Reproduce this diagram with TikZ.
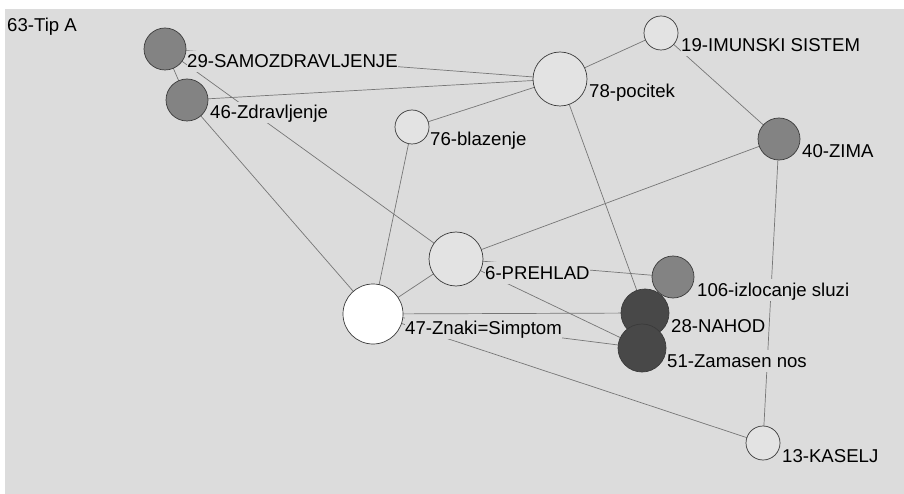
\documentclass[tikz,border=0pt]{standalone}
\usepackage{fontspec}
\setmainfont{Liberation Sans}
\definecolor{bgc}{HTML}{DCDCDC}
\definecolor{lightc}{HTML}{E3E3E3}
\definecolor{midc}{HTML}{838383}
\definecolor{darkc}{HTML}{484848}
\definecolor{bordc}{HTML}{3A3A3A}
\definecolor{edgec}{HTML}{767676}
\pgfdeclarelayer{bglayer}
\pgfdeclarelayer{edgelayer}
\pgfsetlayers{bglayer,edgelayer,main}
\begin{document}
\begin{tikzpicture}[x=1pt,y=-1pt,
  vtx/.style={circle, draw=bordc, line width=0.7pt, inner sep=0pt, minimum size=#1},
  lab/.style={anchor=base west, fill=bgc, inner xsep=0.5pt, inner ysep=0pt,
    text height=17pt, text depth=4.5pt, font=\fontsize{18.6}{20}\selectfont},
  edge/.style={draw=edgec, line width=0.7pt}]
\useasboundingbox (0,0) rectangle (904,494);
\begin{pgfonlayer}{bglayer}
  \fill[white] (0,0) rectangle (904,494);
  \fill[bgc] (5,9) rectangle (904,494);
\end{pgfonlayer}
% vertices
\node[vtx=42pt, fill=midc]   (n29)  at (165,49)  {};
\node[vtx=42pt, fill=midc]   (n46)  at (187,100) {};
\node[vtx=54pt, fill=lightc] (n78)  at (560,79)  {};
\node[vtx=34pt, fill=lightc] (n19)  at (661,33)  {};
\node[vtx=42pt, fill=midc]   (n40)  at (779,139) {};
\node[vtx=34pt, fill=lightc] (n76)  at (412,127) {};
\node[vtx=54pt, fill=lightc] (n6)   at (456,259) {};
\node[vtx=60pt, fill=white]  (n47)  at (373,314) {};
\node[vtx=42pt, fill=midc]   (n106) at (673,277) {};
\node[vtx=48pt, fill=darkc]  (n28)  at (645,313) {};
\node[vtx=48pt, fill=darkc]  (n51)  at (642,348) {};
\node[vtx=34pt, fill=lightc] (n13)  at (763,443) {};
% labels
\node[anchor=base west, inner sep=0pt, font=\fontsize{18.6}{20}\selectfont] (title) at (7,32) {63-Tip A};
\node[lab] (l29)  at (186.5,68)  {29-SAMOZDRAVLJENJE};
\node[lab] (l46)  at (209.5,119) {46-Zdravljenje};
\node[lab] (l78)  at (588.5,98)  {78-pocitek};
\node[lab] (l19)  at (680.5,52)  {19-IMUNSKI SISTEM};
\node[lab] (l40)  at (801.5,158) {40-ZIMA};
\node[lab] (l76)  at (429.5,146) {76-blazenje};
\node[lab] (l6)   at (484.5,279) {6-PREHLAD};
\node[lab] (l47)  at (404.5,334) {47-Znaki=Simptom};
\node[lab] (l106) at (696.5,296) {106-izlocanje sluzi};
\node[lab] (l28)  at (670.5,332) {28-NAHOD};
\node[lab] (l51)  at (666.5,367) {51-Zamasen nos};
\node[lab] (l13)  at (781.5,462) {13-KASELJ};
% edges
\begin{pgfonlayer}{edgelayer}
  \draw[edge] (n29.center) -- (n46.center);
  \draw[edge] (n29.center) -- (n78.center);
  \draw[edge] (n29.center) -- (n6.center);
  \draw[edge] (n46.center) -- (n78.center);
  \draw[edge] (n46.center) -- (n47.center);
  \draw[edge] (n76.center) -- (n78.center);
  \draw[edge] (n76.center) -- (n47.center);
  \draw[edge] (n78.center) -- (n19.center);
  \draw[edge] (n78.center) -- (n28.center);
  \draw[edge] (n19.center) -- (n40.center);
  \draw[edge] (n40.center) -- (n6.center);
  \draw[edge] (n40.center) -- (n13.center);
  \draw[edge] (n6.center) -- (n47.center);
  \draw[edge] (n6.center) -- (n106.center);
  \draw[edge] (n6.center) -- (n51.center);
  \draw[edge] (n47.center) -- (n28.center);
  \draw[edge] (n47.center) -- (n51.center);
  \draw[edge] (n47.center) -- (n13.center);
\end{pgfonlayer}
\end{tikzpicture}
\end{document}
